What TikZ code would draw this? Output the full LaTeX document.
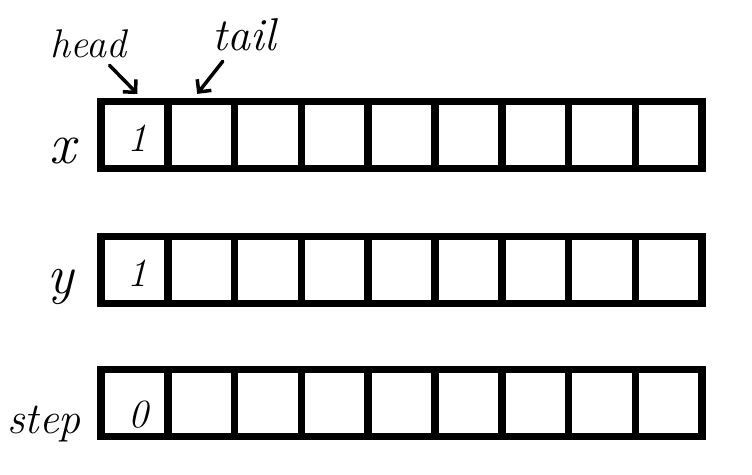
\documentclass[tikz,border=0pt]{standalone}
\usepackage{fontspec}
\usetikzlibrary{arrows.meta,positioning}
\begin{document}
\begin{tikzpicture}[x=1pt,y=-1pt,
  cell/.style={draw,line width=7.5pt,minimum size=66.8pt,inner sep=0pt},
  val/.style={font=\fontsize{40}{40}\selectfont\itshape},
  lab/.style={font=\fontsize{44}{44}\selectfont\itshape,inner sep=2pt},
  ptr/.style={-{Straight Barb[length=9pt,width=18pt]},line width=3.5pt,line cap=round}]
\useasboundingbox (0,0) rectangle (752,474);
% three arrays of nine cells
\foreach \r/\y in {x/135,y/270,s/403}{
  \foreach \i in {1,...,9}
    \node[cell] (\r\i) at ({101+66.8*(\i-.5)},\y) {};
}
\node[val] (xv) at ([xshift=3pt,yshift=-3pt]x1) {1};
\node[val] (yv) at ([xshift=3pt,yshift=-3pt]y1) {1};
\node[val] (sv) at ([xshift=4pt,yshift=-12pt]s1) {0};
% row names
\node[lab,anchor=base,font=\fontsize{58}{58}\selectfont\itshape] (xl) at (63,163) {x};
\node[lab,anchor=base,font=\fontsize{55}{55}\selectfont\itshape] (yl) at (61,293) {y};
\node[lab,anchor=base] (sl) at (44,433) {step};
% pointers
\node[lab,anchor=base,font=\fontsize{40}{40}\selectfont\itshape] (head) at (88,57) {head};
\node[lab,anchor=base,font=\fontsize{46}{46}\selectfont\itshape] (tail) at (244,50) {tail};
\coordinate (hd) at ([xshift=3pt,yshift=4pt]x1.north);
\coordinate (tl) at ([xshift=-4pt,yshift=4pt]x2.north);
\draw[ptr,shorten <=8pt] (head) -- (hd);
\draw[ptr,shorten <=11pt] (tail) -- (tl);
\end{tikzpicture}
\end{document}
